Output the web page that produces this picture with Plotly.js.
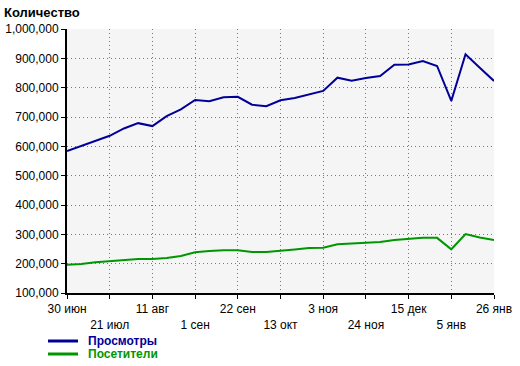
<!DOCTYPE html>
<html><head><meta charset="utf-8">
<script src="https://cdn.plot.ly/plotly-3.0.1.min.js"></script>
<style>html,body{margin:0;padding:0;background:#fff}</style>
</head><body><div id="chart" style="width:520px;height:366px"></div>
<script>
const weeks = ["2008-06-30","2008-07-07","2008-07-14","2008-07-21","2008-07-28","2008-08-04","2008-08-11","2008-08-18","2008-08-25","2008-09-01","2008-09-08","2008-09-15","2008-09-22","2008-09-29","2008-10-06","2008-10-13","2008-10-20","2008-10-27","2008-11-03","2008-11-10","2008-11-17","2008-11-24","2008-12-01","2008-12-08","2008-12-15","2008-12-22","2008-12-29","2009-01-05","2009-01-12","2009-01-19","2009-01-26"];
const views = [584000,602000,619000,636000,661000,679000,669000,703000,726000,758000,754000,767000,769000,742000,737000,757000,765000,776000,789000,834000,824000,833000,840000,878000,879000,891000,874000,755000,914000,868000,823000];
const visitors = [196000,199000,205000,209000,213000,216000,216000,219000,226000,239000,243000,246000,246000,240000,240000,243000,248000,253000,254000,266000,268000,271000,274000,281000,284000,288000,288000,249000,301000,289000,281000];
const tickDates = ["2008-06-30","2008-07-21","2008-08-11","2008-09-01","2008-09-22","2008-10-13","2008-11-03","2008-11-24","2008-12-15","2009-01-05","2009-01-26"];
const tickLabels = ["30 июн","<br>21 июл","11 авг","<br>1 сен","22 сен","<br>13 окт","3 ноя","<br>24 ноя","15 дек","<br>5 янв","26 янв"];
const seriesNames = ["Просмотры","Посетители"];
const seriesColors = ["#000099","#009600"];

const traces = [views, visitors].map((v,i)=>({
  x: weeks, y: v, type:'scatter', mode:'lines', name: seriesNames[i],
  line:{color:seriesColors[i], width:2}, hoverinfo:'skip', showlegend:false
}));

// custom legend placed in pixel positions (converted to paper coords)
const W=520, H=366, L=67, R=26, T=29, B=73;
const pw = W-L-R, ph = H-T-B;
const px2x = p => (p-L)/pw, py2y = p => (H-B-p)/ph;
const shapes = [], annotations = [];
seriesNames.forEach((n,i)=>{
  const yy = 341 + i*13;
  shapes.push({type:'line', xref:'paper', yref:'paper', x0:px2x(48), x1:px2x(78), y0:py2y(yy), y1:py2y(yy),
    line:{color:seriesColors[i], width:3}});
  annotations.push({xref:'paper', yref:'paper', x:px2x(87), y:py2y(yy), xanchor:'left', yanchor:'middle',
    text:'<b>'+n+'</b>', showarrow:false, borderpad:0, font:{size:12, color:seriesColors[i]}});
});

const layout = {
  width:W, height:H,
  margin:{l:L, r:R, t:T, b:B, autoexpand:false},
  paper_bgcolor:'#ffffff', plot_bgcolor:'#f5f5f5',
  font:{family:'"Liberation Sans", Arial, sans-serif', size:12, color:'#000'},
  title:{text:'<b>Количество</b>', x:4/520, xanchor:'left', xref:'container', y:1-12/366, yanchor:'middle', yref:'container', font:{size:13, color:'#000'}},
  xaxis:{
    type:'date', range:[weeks[0], weeks[weeks.length-1]],
    tickmode:'array', tickvals:tickDates, ticktext:tickLabels, tickangle:0, automargin:false,
    ticks:'outside', ticklen:4, tickcolor:'#000', tickwidth:1,
    showline:true, linecolor:'#000', linewidth:2,
    showgrid:true, gridcolor:'#777', griddash:'1px,3px', gridwidth:1,
    zeroline:false, fixedrange:true
  },
  yaxis:{
    range:[100000,1000000], dtick:100000, tick0:0, tickformat:',d', automargin:false,
    ticks:'outside', ticklen:4, tickcolor:'#000', tickwidth:1,
    showline:true, linecolor:'#000', linewidth:2,
    showgrid:true, gridcolor:'#777', griddash:'1px,3px', gridwidth:1,
    zeroline:false, fixedrange:true
  },
  showlegend:false,
  shapes: shapes, annotations: annotations
};
Plotly.newPlot('chart', traces, layout, {staticPlot:true, displayModeBar:false});
</script></body></html>
